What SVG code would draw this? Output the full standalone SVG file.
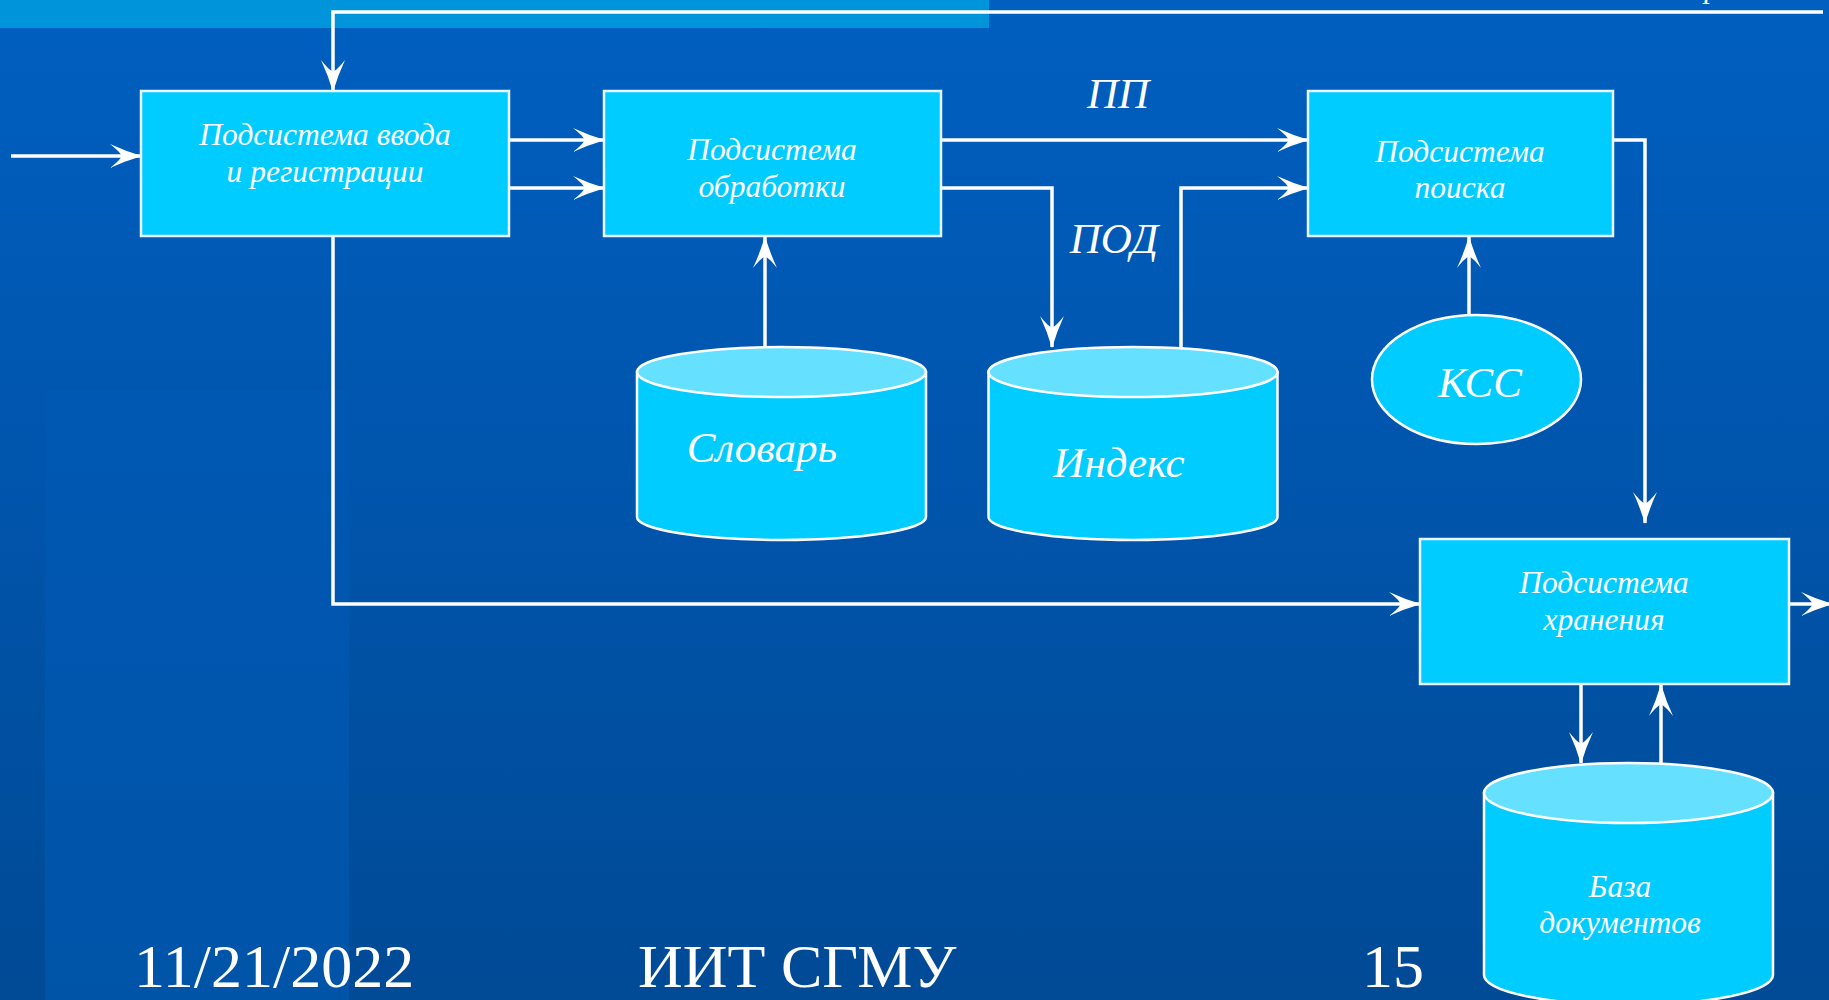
<svg xmlns="http://www.w3.org/2000/svg" width="1829" height="1000" viewBox="0 0 1829 1000">
  <defs>
    <linearGradient id="bg" x1="0" y1="0" x2="0" y2="1">
      <stop offset="0" stop-color="#005FC0"/>
      <stop offset="1" stop-color="#004A96"/>
    </linearGradient>
    <linearGradient id="band" x1="0" y1="0" x2="0" y2="1">
      <stop offset="0" stop-color="#0058B3"/>
      <stop offset="1" stop-color="#0054A8"/>
    </linearGradient>
    <marker id="arr" viewBox="-32 -13 34 26" refX="0" refY="0" markerWidth="34" markerHeight="26" markerUnits="userSpaceOnUse" orient="auto" overflow="visible">
      <path d="M1,0 Q-16,-5 -31,-12 Q-22,-5 -19,0 Q-22,5 -31,12 Q-16,5 1,0 Z" fill="#FFFFFF"/>
    </marker>
  </defs>
  <style>
    .conn { fill: none; stroke: #FFFFFF; stroke-width: 3.5; stroke-linejoin: miter; }
    .box { fill: #00CCFF; stroke: #E8F6FF; stroke-width: 2.5; }
    .cyl { fill: #00CCFF; stroke: #FFFFFF; stroke-width: 2.5; }
    .cyltop { fill: #66E0FF; stroke: #FFFFFF; stroke-width: 2.5; }
    .t { font-family: "Liberation Serif", "Times New Roman", serif; font-style: italic; fill: #FFFFFF; text-anchor: middle; }
    .bt { font-size: 31.5px; }
    .lbl { font-size: 43px; }
    .foot { font-family: "Liberation Serif", "Times New Roman", serif; fill: #FFFFFF; font-size: 62px; }
  </style>

  <!-- background -->
  <rect x="0" y="0" width="1829" height="1000" fill="url(#bg)"/>
  <rect x="45" y="390" width="304" height="610" fill="url(#band)"/>
  <rect x="0" y="0" width="989" height="28" fill="#0095DA"/>

  <!-- clipped label at top right -->
  <text class="t" x="1712" y="-3" font-size="31px">р</text>

  <!-- connectors -->
  <g id="connectors">
    <path class="conn" d="M1823,12 L333,12 L333,91" marker-end="url(#arr)"/>
    <path class="conn" d="M11,156 L141,156" marker-end="url(#arr)"/>
    <path class="conn" d="M509,140 L604,140" marker-end="url(#arr)"/>
    <path class="conn" d="M509,188 L604,188" marker-end="url(#arr)"/>
    <path class="conn" d="M941,140 L1308,140" marker-end="url(#arr)"/>
    <path class="conn" d="M941,188 L1052,188 L1052,347" marker-end="url(#arr)"/>
    <path class="conn" d="M1181,348 L1181,188 L1308,188" marker-end="url(#arr)"/>
    <path class="conn" d="M765,348 L765,237" marker-end="url(#arr)"/>
    <path class="conn" d="M1469,315 L1469,237" marker-end="url(#arr)"/>
    <path class="conn" d="M1613,140 L1645,140 L1645,523" marker-end="url(#arr)"/>
    <path class="conn" d="M333,236 L333,604 L1420,604" marker-end="url(#arr)"/>
    <path class="conn" d="M1789,604 L1832,604" marker-end="url(#arr)"/>
    <path class="conn" d="M1581,684 L1581,763" marker-end="url(#arr)"/>
    <path class="conn" d="M1661,764 L1661,685" marker-end="url(#arr)"/>
    <text class="t lbl" x="1118" y="108">ПП</text>
    <text class="t lbl" x="1114" y="253">ПОД</text>
  </g>

  <!-- nodes -->
  <g id="input">
    <rect class="box" x="141" y="91" width="368" height="145"/>
    <text class="t bt" x="325" y="145">Подсистема ввода</text>
    <text class="t bt" x="325" y="182">и регистрации</text>
  </g>
  <g id="processing">
    <rect class="box" x="604" y="91" width="337" height="145"/>
    <text class="t bt" x="772" y="160">Подсистема</text>
    <text class="t bt" x="772" y="197">обработки</text>
  </g>
  <g id="search">
    <rect class="box" x="1308" y="91" width="305" height="145"/>
    <text class="t bt" x="1460" y="162">Подсистема</text>
    <text class="t bt" x="1460" y="198">поиска</text>
  </g>
  <g id="storage">
    <rect class="box" x="1420" y="539" width="369" height="145"/>
    <text class="t bt" x="1604" y="593">Подсистема</text>
    <text class="t bt" x="1604" y="630">хранения</text>
  </g>
  <g id="dictionary">
    <path class="cyl" d="M637,372 L637,517 A144.5,23 0 0 0 926,517 L926,372 Z"/>
    <ellipse class="cyltop" cx="781.5" cy="372" rx="144.5" ry="25"/>
    <text class="t lbl" x="762" y="462">Словарь</text>
  </g>
  <g id="index">
    <path class="cyl" d="M988.5,372 L988.5,517 A144.5,23 0 0 0 1277.5,517 L1277.5,372 Z"/>
    <ellipse class="cyltop" cx="1133" cy="372" rx="144.5" ry="25"/>
    <text class="t lbl" x="1119" y="477">Индекс</text>
  </g>
  <g id="kss">
    <ellipse class="cyl" cx="1476.5" cy="379.5" rx="104.5" ry="64.5"/>
    <text class="t lbl" x="1480" y="397">КСС</text>
  </g>
  <g id="docbase">
    <path class="cyl" d="M1484,793 L1484,975 A144.5,30 0 0 0 1773,975 L1773,793 Z"/>
    <ellipse class="cyltop" cx="1628.5" cy="793" rx="144.5" ry="30"/>
    <text class="t bt" x="1620" y="897">База</text>
    <text class="t bt" x="1620" y="933">документов</text>
  </g>

  <!-- footer -->
  <text class="foot" x="134" y="987">11/21/2022</text>
  <text class="foot" x="638" y="987">ИИТ СГМУ</text>
  <text class="foot" x="1424" y="987" text-anchor="end">15</text>
</svg>
